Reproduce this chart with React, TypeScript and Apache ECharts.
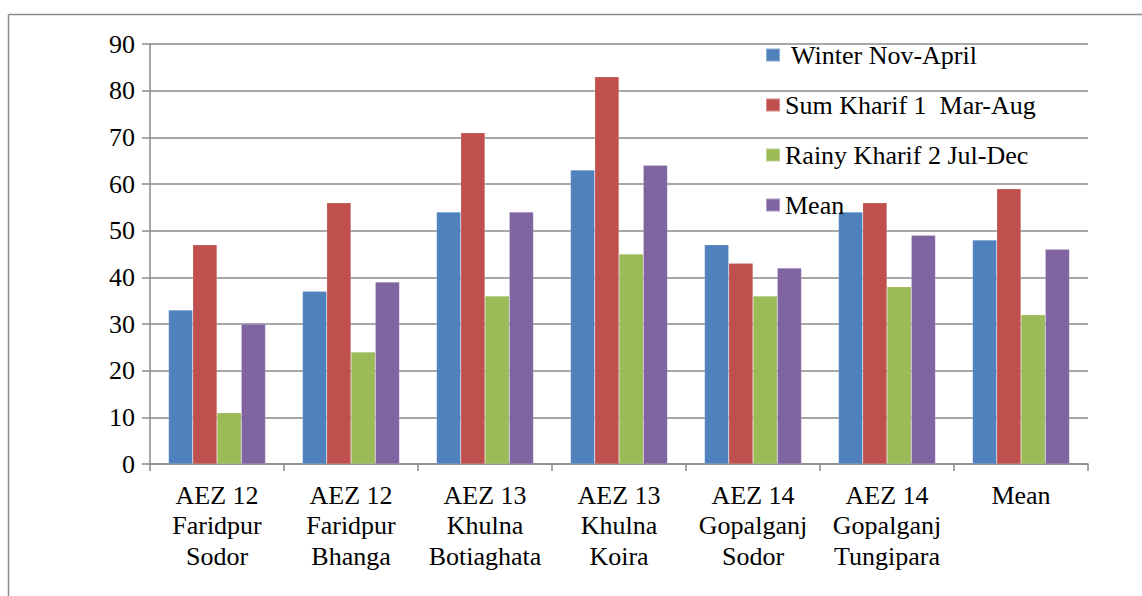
import React, { useEffect, useRef } from "react";
import * as echarts from "echarts";

const categories = [
  "AEZ 12\nFaridpur\nSodor",
  "AEZ 12\nFaridpur\nBhanga",
  "AEZ 13\nKhulna\nBotiaghata",
  "AEZ 13\nKhulna\nKoira",
  "AEZ 14\nGopalganj\nSodor",
  "AEZ 14\nGopalganj\nTungipara",
  "Mean",
];
const winter = [33, 37, 54, 63, 47, 54, 48];
const kharif1 = [47, 56, 71, 83, 43, 56, 59];
const kharif2 = [11, 24, 36, 45, 36, 38, 32];
const meanVals = [30, 39, 54, 64, 42, 49, 46];
const seriesNames = ["Winter Nov-April", "Sum Kharif 1  Mar-Aug", "Rainy Kharif 2 Jul-Dec", "Mean"];
const colors = ["#4F81BD", "#C0504D", "#9BBB59", "#8064A2"];
const yTicks = { min: 0, max: 90, interval: 10 };

const FONT = "serif";

export default function App() {
  const ref = useRef<HTMLDivElement>(null);
  useEffect(() => {
    if (!ref.current) return;
    const chart = echarts.init(ref.current, null, { renderer: "svg" });
    const values = [winter, kharif1, kharif2, meanVals];
    chart.setOption({
      animation: false,
      textStyle: { fontFamily: FONT },
      grid: { left: 150, top: 44, width: 938, height: 420, containLabel: false },
      graphic: [
        { type: "line", shape: { x1: 8.5, y1: 14.5, x2: 1142, y2: 14.5 }, style: { stroke: "#8a8a8a", lineWidth: 1.5 } },
        { type: "line", shape: { x1: 8.5, y1: 14.5, x2: 8.5, y2: 596 }, style: { stroke: "#8a8a8a", lineWidth: 1.5 } },
      ],
      legend: {
        orient: "vertical",
        left: 765,
        top: 42,
        padding: 0,
        itemGap: 24,
        itemWidth: 14,
        itemHeight: 13,
        icon: "rect",
        data: [
          { name: seriesNames[0], textStyle: { padding: [0, 0, 0, 6] } },
          { name: seriesNames[1] },
          { name: seriesNames[2] },
          { name: seriesNames[3] },
        ],
        textStyle: { fontFamily: FONT, fontSize: 26, color: "#000" },
      },
      xAxis: {
        type: "category",
        data: categories,
        axisLine: { lineStyle: { color: "#8a8a8a", width: 1.5 } },
        axisTick: { show: true, length: 7, alignWithLabel: false, lineStyle: { color: "#8a8a8a", width: 1.5 } },
        axisLabel: { fontFamily: FONT, fontSize: 26, color: "#000", lineHeight: 30.5, margin: 16, interval: 0 },
      },
      yAxis: {
        type: "value",
        min: yTicks.min,
        max: yTicks.max,
        interval: yTicks.interval,
        axisLine: { show: true, lineStyle: { color: "#8a8a8a", width: 1.5 } },
        axisTick: { show: true, length: 8, lineStyle: { color: "#8a8a8a", width: 1.5 } },
        splitLine: { lineStyle: { color: "#8a8a8a", width: 1.5 } },
        axisLabel: { fontFamily: FONT, fontSize: 26, color: "#000", margin: 15 },
      },
      series: seriesNames.map((n, i) => ({
        name: n,
        type: "bar",
        data: values[i],
        barGap: "0%",
        barCategoryGap: "27.6%",
        itemStyle: { color: colors[i], borderColor: "rgba(255,255,255,0.35)", borderWidth: 0.5 },
      })),
    });
    return () => chart.dispose();
  }, []);
  return <div ref={ref} style={{ position: "absolute", left: 0, top: 0, width: 1142, height: 596 }} />;
}
